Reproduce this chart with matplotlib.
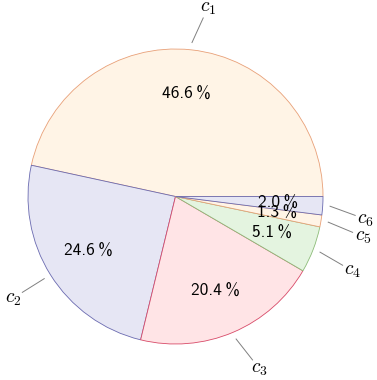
import numpy as np
import matplotlib
matplotlib.use('Agg')
import matplotlib.pyplot as plt

plt.rcParams['mathtext.fontset'] = 'cm'

# Chart data
labels = ['c_1', 'c_2', 'c_3', 'c_4', 'c_5', 'c_6']
shares = [46.6, 24.6, 20.4, 5.1, 1.3, 2.0]

# Slice colours (fill / edge)
fills = ['#fff4e6', '#e6e6f4', '#ffe4e6', '#e4f4e0', '#fff4e6', '#e6e6f4']
edges = ['#e8a078', '#6a6ab0', '#d84a68', '#8cbc78', '#e8a078', '#6a6ab0']

# small angular shift (deg) of the pin end, as in the original layout
pin_shift = [-2.7, 0.0, 2.2, -1.3, -1.9, -2.4]

W, H = 377, 380
cx, cy, R = 175.5, 196.5, 147.5

fig = plt.figure(figsize=(W / 100, H / 100), dpi=100)
ax = fig.add_axes([0, 0, 1, 1])

wedges, _ = ax.pie(shares, startangle=0, counterclock=True, radius=1,
                   colors=fills, wedgeprops=dict(linewidth=0.6))
for w, ec in zip(wedges, edges):
    w.set_edgecolor(ec)

for w, lab, val, sh in zip(wedges, labels, shares, pin_shift):
    mid = (w.theta1 + w.theta2) / 2
    a0 = np.deg2rad(mid)
    a1 = np.deg2rad(mid + sh)
    # percentage inside the slice
    ax.text(0.7 * np.cos(a0), 0.7 * np.sin(a0), '%.1f\u2009%%' % val,
            ha='center', va='center', fontsize=12.5, color='black',
            family=['cmss10', 'DejaVu Sans'])
    # pin line + label outside
    x0, y0 = 1.05 * np.cos(a0), 1.05 * np.sin(a0)
    x1, y1 = 1.225 * np.cos(a1), 1.225 * np.sin(a1)
    ax.plot([x0, x1], [y0, y1], color='#808080', lw=0.7)
    d = np.hypot(x1 - x0, y1 - y0)
    tx = x1 + 0.075 * (x1 - x0) / d
    ty = y1 + 0.075 * (y1 - y0) / d
    ax.text(tx, ty, r'$%s$' % lab, ha='center', va='center',
            fontsize=14, color='black')

ax.set_xlim(-cx / R, (W - cx) / R)
ax.set_ylim(-(H - cy) / R, cy / R)
ax.set_aspect('auto')
ax.axis('off')

fig.savefig('out.png', dpi=100)
